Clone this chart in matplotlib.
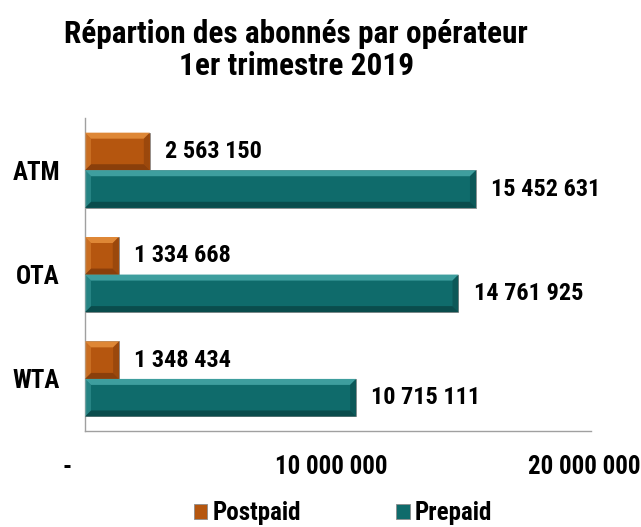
import numpy as np
import matplotlib.pyplot as plt
from matplotlib.patches import Polygon
import matplotlib.transforms as mtransforms

# Data
operators = ['ATM', 'OTA', 'WTA']
postpaid = [2563150, 1334668, 1348434]
prepaid = [15452631, 14761925, 10715111]
xticks = [0, 10000000, 20000000]
xtick_labels = ['-', '10 000 000', '20 000 000']

plt.rcParams['font.family'] = ['Roboto Condensed', 'PT Sans Narrow', 'DejaVu Sans']
plt.rcParams['font.weight'] = 'bold'


def fmt(v):
    return f'{v:,}'.replace(',', ' ')


def bevel(ax, bar, light, dark, dx, dy):
    # fake 3D bevel on top of a bar
    x0, y0 = bar.get_x(), bar.get_y()
    x1, y1 = x0 + bar.get_width(), y0 + bar.get_height()
    ax.add_patch(Polygon([(x0, y1), (x1, y1), (x1 - dx, y1 - dy), (x0 + dx, y1 - dy)],
                         closed=True, fc=light, ec='none', zorder=3))
    ax.add_patch(Polygon([(x0, y0), (x1, y0), (x1 - dx, y0 + dy), (x0 + dx, y0 + dy)],
                         closed=True, fc=dark, ec='none', zorder=3))
    ax.add_patch(Polygon([(x1, y0), (x1, y1), (x1 - dx, y1 - dy), (x1 - dx, y0 + dy)],
                         closed=True, fc=dark, ec='none', alpha=0.6, zorder=3))
    ax.add_patch(Polygon([(x0, y0), (x0, y1), (x0 + dx, y1 - dy), (x0 + dx, y0 + dy)],
                         closed=True, fc=light, ec='none', alpha=0.5, zorder=3))


fig = plt.figure(figsize=(6.41, 5.27), dpi=100)
ax = fig.add_axes([0.1326, 0.182, 0.7894, 0.594])

y = np.arange(len(operators))[::-1]
h = 0.36
b_post = ax.barh(y + h / 2, postpaid, height=h, color='#B5560F', edgecolor='#8C8C8C',
                 linewidth=0.6, label='Postpaid', zorder=2)
b_pre = ax.barh(y - h / 2, prepaid, height=h, color='#0F6B6B', edgecolor='#8C8C8C',
                linewidth=0.6, label='Prepaid', zorder=2)

ax.set_xlim(0, 20000000)
ax.set_ylim(-0.5, 2.5)

dx = 20000000 / 506 * 6
dy = 1 / 104.3 * 6
for bar in b_post:
    bevel(ax, bar, '#DE8736', '#8A3F0B', dx, dy)
for bar in b_pre:
    bevel(ax, bar, '#3E9E9E', '#0A4C4C', dx, dy)

for bar, v in zip(b_post, postpaid):
    ax.annotate(fmt(v), (v, bar.get_y() + h / 2), xytext=(11, 0), textcoords='offset points',
                va='center', ha='left', fontsize=17.5, fontweight='bold')
for bar, v in zip(b_pre, prepaid):
    ax.annotate(fmt(v), (v, bar.get_y() + h / 2), xytext=(11, 0), textcoords='offset points',
                va='center', ha='left', fontsize=17.5, fontweight='bold')

ax.set_yticks(y)
ax.set_yticklabels(operators, fontsize=18, fontweight='bold')
ax.set_xticks(xticks)
ax.set_xticklabels(xtick_labels, fontsize=18, fontweight='bold')
ax.tick_params(axis='both', length=0)
ax.tick_params(axis='y', pad=18)
ax.tick_params(axis='x', pad=17)
for i, lab in enumerate(ax.get_xticklabels()):
    shift = -13 if i == 0 else -5
    lab.set_transform(lab.get_transform() + mtransforms.ScaledTranslation(shift / 72, 0, fig.dpi_scale_trans))

for s in ['top', 'right']:
    ax.spines[s].set_visible(False)
for s in ['left', 'bottom']:
    ax.spines[s].set_color('#A0A0A0')
    ax.spines[s].set_linewidth(1)

fig.text(0.462, 0.905, 'Répartion des abonnés par opérateur\n1er trimestre 2019',
         ha='center', va='center', fontsize=22.5, fontweight='bold', linespacing=1.05)

leg = fig.legend(handles=[b_post, b_pre], loc='center', bbox_to_anchor=(0.535, 0.026),
                 ncol=2, frameon=False, fontsize=18, handlelength=0.55, handleheight=0.55,
                 handletextpad=0.2, columnspacing=3.8, borderpad=0.1)

plt.savefig('out.png', dpi=100)
